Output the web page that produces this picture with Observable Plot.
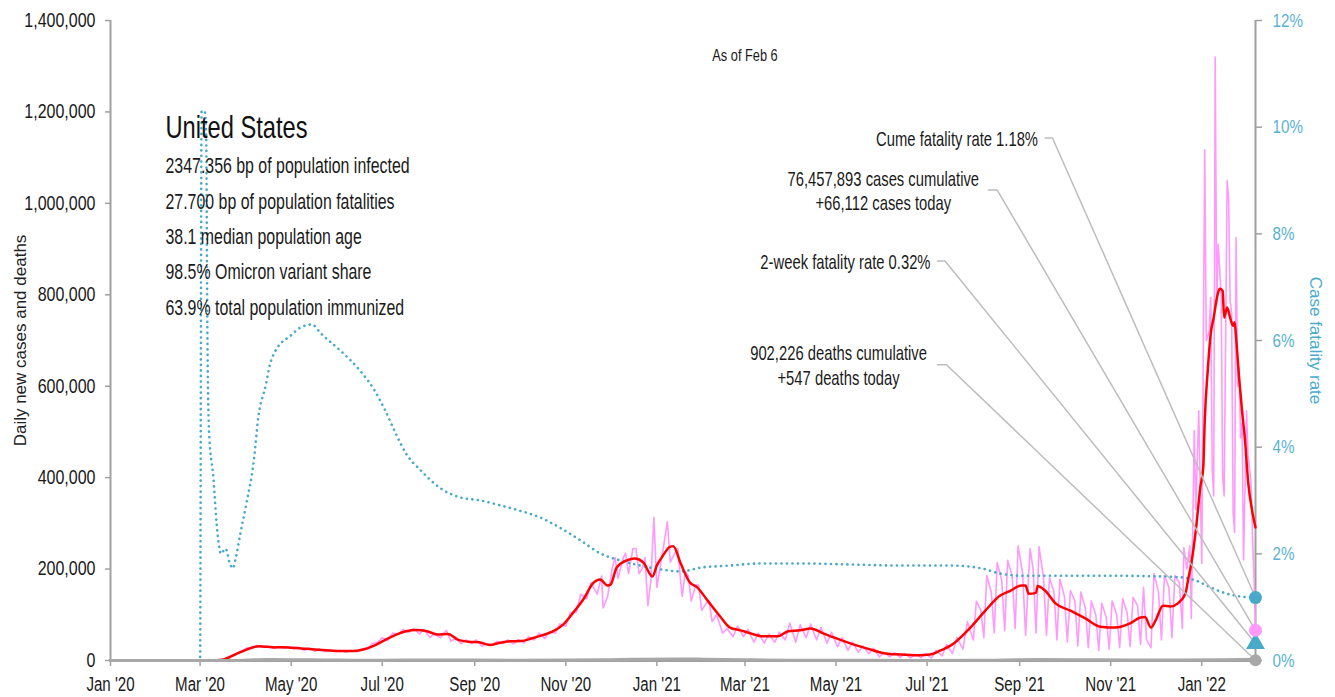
<!DOCTYPE html>
<html><head><meta charset="utf-8">
<script src="https://cdn.jsdelivr.net/npm/d3@7"></script>
<script src="https://cdn.jsdelivr.net/npm/@observablehq/plot@0.6"></script>
<style>
body{margin:0;background:#fff;}
#chart svg{display:block;}
</style></head><body><div id="chart"></div>
<script>
// ---------------- DATA ----------------
// 7-day average of daily new cases (red)
const avgCases = [
["2020-01-01",0],["2020-03-08",0],["2020-03-12",300],["2020-03-16",1500],["2020-03-20",6000],["2020-03-25",14000],["2020-03-31",22000],["2020-04-05",28500],["2020-04-10",31000],["2020-04-15",30000],["2020-04-20",28500],["2020-04-25",29000],["2020-05-01",28000],["2020-05-08",26500],["2020-05-15",24500],["2020-05-22",23000],["2020-05-29",21500],["2020-06-05",21000],["2020-06-12",21000],["2020-06-19",24500],["2020-06-26",33000],["2020-07-03",45000],["2020-07-10",56000],["2020-07-17",64000],["2020-07-24",66500],["2020-07-31",64000],["2020-08-07",57000],["2020-08-14",58000],["2020-08-21",45000],["2020-08-28",41000],["2020-09-04",40000],["2020-09-11",34000],["2020-09-18",39000],["2020-09-25",42000],["2020-10-02",42500],["2020-10-09",48000],["2020-10-16",55000],["2020-10-23",63000],["2020-10-30",78000],["2020-11-06",105000],["2020-11-13",135000],["2020-11-19",168000],["2020-11-24",177000],["2020-11-29",164000],["2020-12-01",166000],["2020-12-05",203000],["2020-12-12",219000],["2020-12-17",223000],["2020-12-23",214000],["2020-12-29",184000],["2021-01-01",208000],["2021-01-05",229000],["2021-01-10",249000],["2021-01-12",250000],["2021-01-17",212000],["2021-01-23",171000],["2021-01-28",160000],["2021-02-04",131000],["2021-02-12",98000],["2021-02-19",72000],["2021-02-26",66000],["2021-03-05",59000],["2021-03-13",53000],["2021-03-23",53000],["2021-03-30",64000],["2021-04-07",66000],["2021-04-14",70000],["2021-04-22",60000],["2021-04-29",51000],["2021-05-11",37000],["2021-05-22",26000],["2021-06-02",16000],["2021-06-13",13000],["2021-06-25",11500],["2021-07-03",13000],["2021-07-10",22000],["2021-07-17",33000],["2021-07-30",72000],["2021-08-09",109000],["2021-08-19",142000],["2021-08-26",153000],["2021-09-02",164000],["2021-09-05",164000],["2021-09-07",146000],["2021-09-12",148000],["2021-09-13",163000],["2021-09-18",153000],["2021-09-25",125000],["2021-10-05",109000],["2021-10-15",92000],["2021-10-25",74000],["2021-11-04",72000],["2021-11-14",81000],["2021-11-21",94000],["2021-11-24",95000],["2021-11-28",72000],["2021-12-01",87000],["2021-12-06",120000],["2021-12-11",118000],["2021-12-16",125000],["2021-12-21",146000],["2021-12-23",179000],["2021-12-25",212000],["2021-12-28",284000],["2021-12-31",378000],["2022-01-02",422000],["2022-01-03",525000],["2022-01-05",634000],["2022-01-07",715000],["2022-01-09",750000],["2022-01-11",791000],["2022-01-13",813000],["2022-01-15",809000],["2022-01-16",750000],["2022-01-18",772000],["2022-01-20",750000],["2022-01-22",732000],["2022-01-23",740000],["2022-01-24",706000],["2022-01-26",619000],["2022-01-28",546000],["2022-01-30",481000],["2022-02-01",393000],["2022-02-04",323000],["2022-02-06",291000]
];
// Daily new cases (pink)
const dailyCases = [
["2020-01-01",0],["2020-03-01",0],["2020-03-08",100],["2020-03-11",400],["2020-03-15",1200],["2020-03-18",5000],["2020-03-22",11000],["2020-03-25",15000],["2020-03-29",21000],["2020-04-01",27000],["2020-04-05",27000],["2020-04-08",33000],["2020-04-12",29000],["2020-04-15",31000],["2020-04-19",27000],["2020-04-22",30000],["2020-04-26",27000],["2020-04-29",30000],["2020-05-03",25000],["2020-05-06",29000],["2020-05-10",22000],["2020-05-13",27000],["2020-05-17",20000],["2020-05-20",25000],["2020-05-24",19000],["2020-05-27",23000],["2020-05-31",19000],["2020-06-03",22000],["2020-06-07",18000],["2020-06-10",22000],["2020-06-14",19000],["2020-06-17",25000],["2020-06-21",25000],["2020-06-24",36000],["2020-06-28",40000],["2020-07-01",50000],["2020-07-05",45000],["2020-07-08",60000],["2020-07-12",58000],["2020-07-15",68000],["2020-07-19",62000],["2020-07-22",70000],["2020-07-26",58000],["2020-07-29",68000],["2020-08-02",50000],["2020-08-05",58000],["2020-08-09",50000],["2020-08-13",66000],["2020-08-16",42000],["2020-08-19",48000],["2020-08-23",37000],["2020-08-26",45000],["2020-08-30",37000],["2020-09-02",45000],["2020-09-06",31000],["2020-09-09",37000],["2020-09-13",34000],["2020-09-16",42000],["2020-09-20",37000],["2020-09-23",45000],["2020-09-27",36000],["2020-09-30",46000],["2020-10-04",38000],["2020-10-07",52000],["2020-10-11",45000],["2020-10-14",60000],["2020-10-18",48000],["2020-10-21",63000],["2020-10-25",60000],["2020-10-28",80000],["2020-11-01",75000],["2020-11-04",105000],["2020-11-08",105000],["2020-11-11",145000],["2020-11-15",135000],["2020-11-18",170000],["2020-11-22",145000],["2020-11-25",185000],["2020-11-26",115000],["2020-11-29",140000],["2020-12-02",200000],["2020-12-04",225000],["2020-12-06",180000],["2020-12-09",220000],["2020-12-11",235000],["2020-12-13",190000],["2020-12-16",245000],["2020-12-18",245000],["2020-12-20",190000],["2020-12-22",200000],["2020-12-24",225000],["2020-12-26",120000],["2020-12-28",175000],["2020-12-30",313000],["2021-01-01",160000],["2021-01-03",200000],["2021-01-06",260000],["2021-01-08",304000],["2021-01-10",215000],["2021-01-13",235000],["2021-01-15",245000],["2021-01-17",170000],["2021-01-18",140000],["2021-01-20",195000],["2021-01-22",185000],["2021-01-24",130000],["2021-01-27",165000],["2021-01-29",165000],["2021-01-31",110000],["2021-02-03",125000],["2021-02-05",130000],["2021-02-07",85000],["2021-02-10",100000],["2021-02-14",60000],["2021-02-17",70000],["2021-02-21",52000],["2021-02-24",75000],["2021-02-28",52000],["2021-03-03",68000],["2021-03-07",40000],["2021-03-10",60000],["2021-03-14",38000],["2021-03-17",58000],["2021-03-21",40000],["2021-03-24",62000],["2021-03-28",45000],["2021-03-31",82000],["2021-04-04",40000],["2021-04-07",78000],["2021-04-11",50000],["2021-04-14",80000],["2021-04-18",45000],["2021-04-21",72000],["2021-04-25",38000],["2021-04-28",62000],["2021-05-02",30000],["2021-05-05",50000],["2021-05-09",22000],["2021-05-12",40000],["2021-05-16",18000],["2021-05-19",32000],["2021-05-23",15000],["2021-05-26",27000],["2021-05-30",8000],["2021-06-02",18000],["2021-06-06",8000],["2021-06-09",17000],["2021-06-13",7000],["2021-06-16",15000],["2021-06-20",6000],["2021-06-23",14000],["2021-06-27",6000],["2021-06-30",15000],["2021-07-04",5000],["2021-07-07",22000],["2021-07-11",10000],["2021-07-14",35000],["2021-07-18",15000],["2021-07-21",50000],["2021-07-25",25000],["2021-07-28",85000],["2021-08-01",45000],["2021-08-03",130000],["2021-08-06",110000],["2021-08-08",50000],["2021-08-10",186000],["2021-08-13",150000],["2021-08-15",60000],["2021-08-17",214000],["2021-08-20",175000],["2021-08-22",65000],["2021-08-24",219000],["2021-08-27",185000],["2021-08-29",70000],["2021-08-31",251000],["2021-09-03",190000],["2021-09-05",55000],["2021-09-08",245000],["2021-09-10",200000],["2021-09-12",60000],["2021-09-14",249000],["2021-09-17",180000],["2021-09-19",55000],["2021-09-21",181000],["2021-09-24",150000],["2021-09-26",45000],["2021-09-28",178000],["2021-10-01",140000],["2021-10-03",40000],["2021-10-05",153000],["2021-10-08",130000],["2021-10-10",32000],["2021-10-12",150000],["2021-10-15",115000],["2021-10-17",28000],["2021-10-19",130000],["2021-10-22",100000],["2021-10-24",22000],["2021-10-26",125000],["2021-10-29",95000],["2021-10-31",25000],["2021-11-02",130000],["2021-11-05",100000],["2021-11-07",28000],["2021-11-09",135000],["2021-11-12",105000],["2021-11-14",30000],["2021-11-16",138000],["2021-11-19",120000],["2021-11-21",35000],["2021-11-23",160000],["2021-11-25",45000],["2021-11-28",28000],["2021-11-30",190000],["2021-12-03",150000],["2021-12-05",45000],["2021-12-07",186000],["2021-12-10",160000],["2021-12-12",50000],["2021-12-14",186000],["2021-12-17",170000],["2021-12-19",70000],["2021-12-20",247000],["2021-12-22",200000],["2021-12-24",251000],["2021-12-25",92000],["2021-12-27",503000],["2021-12-28",330000],["2021-12-30",546000],["2022-01-01",212000],["2022-01-03",1117000],["2022-01-04",700000],["2022-01-06",720000],["2022-01-07",794000],["2022-01-08",420000],["2022-01-09",360000],["2022-01-10",1320000],["2022-01-11",780000],["2022-01-12",911000],["2022-01-13",855000],["2022-01-14",800000],["2022-01-15",402000],["2022-01-16",360000],["2022-01-18",1050000],["2022-01-19",1010000],["2022-01-20",787000],["2022-01-21",760000],["2022-01-22",323000],["2022-01-23",280000],["2022-01-24",925000],["2022-01-25",600000],["2022-01-26",640000],["2022-01-27",487000],["2022-01-28",520000],["2022-01-29",220000],["2022-01-31",546000],["2022-02-01",450000],["2022-02-02",420000],["2022-02-03",390000],["2022-02-04",269000],["2022-02-05",180000],["2022-02-06",66112]
];
// Daily deaths, 7-day average (grey, near the baseline)
const avgDeaths = [
["2020-01-01",0],["2020-03-15",10],["2020-04-01",900],["2020-04-15",2200],["2020-05-01",1900],["2020-05-15",1500],["2020-06-01",1000],["2020-07-01",600],["2020-08-01",1150],["2020-09-01",900],["2020-10-01",750],["2020-11-01",850],["2020-12-01",1900],["2021-01-12",3400],["2021-02-01",2900],["2021-03-01",1700],["2021-04-01",800],["2021-05-01",700],["2021-06-01",450],["2021-07-01",250],["2021-08-01",400],["2021-09-15",2000],["2021-10-15",1600],["2021-11-15",1100],["2021-12-15",1300],["2022-01-15",1900],["2022-02-06",2500]
];
// Case fatality rate, % (blue dotted, right axis)
const caseFatality = [
["2020-01-01",0],["2020-03-01",0],["2020-03-02",10.3],["2020-03-04",10.3],["2020-03-05",10.0],["2020-03-06",5.8],["2020-03-07",4.3],["2020-03-10",3.4],["2020-03-12",2.6],["2020-03-14",2.1],["2020-03-15",2.0],["2020-03-18",2.1],["2020-03-21",1.82],["2020-03-23",1.73],["2020-03-25",1.93],["2020-03-28",2.38],["2020-04-01",2.94],["2020-04-06",3.75],["2020-04-09",4.56],["2020-04-14",5.16],["2020-04-17",5.57],["2020-04-20",5.78],["2020-05-01",6.1],["2020-05-07",6.24],["2020-05-15",6.3],["2020-05-21",6.13],["2020-06-03",5.81],["2020-06-16",5.44],["2020-06-26",5.06],["2020-07-03",4.69],["2020-07-10",4.26],["2020-07-17",3.88],["2020-07-27",3.56],["2020-08-09",3.23],["2020-08-22",3.06],["2020-09-05",3.0],["2020-09-18",2.91],["2020-10-01",2.81],["2020-10-15",2.68],["2020-10-28",2.49],["2020-11-11",2.25],["2020-11-24",2.01],["2020-12-07",1.88],["2020-12-21",1.78],["2021-01-03",1.71],["2021-01-17",1.67],["2021-01-30",1.74],["2021-02-19",1.78],["2021-03-11",1.82],["2021-04-07",1.82],["2021-05-11",1.8],["2021-06-13",1.78],["2021-07-17",1.78],["2021-08-06",1.73],["2021-08-19",1.63],["2021-09-02",1.59],["2021-10-25",1.59],["2021-11-28",1.58],["2021-12-18",1.56],["2021-12-28",1.5],["2022-01-07",1.37],["2022-01-17",1.26],["2022-01-27",1.2],["2022-02-06",1.18]
];
// Latest-day values
const casesToday = 66112;
const deathsToday = 547;
const cumeFatalityRate = 1.18;
const twoWeekFatalityRate = 0.32;
// Tick labels
const leftTicks = [0,200000,400000,600000,800000,1000000,1200000,1400000];
const rightTicks = [0,2,4,6,8,10,12];
const rightTickLabels = ["0%","2%","4%","6%","8%","10%","12%"];
const monthTicks = ["2020-01-01","2020-03-01","2020-05-01","2020-07-01","2020-09-01","2020-11-01","2021-01-01","2021-03-01","2021-05-01","2021-07-01","2021-09-01","2021-11-01","2022-01-01"];
const monthLabels = ["Jan '20","Mar '20","May '20","Jul '20","Sep '20","Nov '20","Jan '21","Mar '21","May '21","Jul '21","Sep '21","Nov '21","Jan '22"];
// Texts
const titleText = "United States";
const infoLines = ["2347.356 bp of population infected","27.700 bp of population fatalities","38.1 median population age","98.5% Omicron variant share","63.9% total population immunized"];
const asOfText = "As of Feb 6";
const labelCume = "Cume fatality rate 1.18%";
const labelCases = "76,457,893 cases cumulative\n+66,112 cases today";
const labelTwoWeek = "2-week fatality rate 0.32%";
const labelDeaths = "902,226 deaths cumulative\n+547 deaths today";

// ---------------- CHART ----------------
const parse = d3.utcParse("%Y-%m-%d");
const startDate = parse("2020-01-01"), endDate = parse("2022-02-06");
const Y_MAX = 1400000, CFR_MAX = 12;
const cfrToY = p => p / CFR_MAX * Y_MAX;   // right axis mapped onto left scale
const toRows = arr => arr.map(([d, v]) => ({date: parse(d), v}));

const red = toRows(avgCases), pink = toRows(dailyCases), grey = toRows(avgDeaths), cfr = toRows(caseFatality);

const FONT = '"Liberation Sans",Arial,sans-serif';
const BLUE = "#48a9c9", PINK = "#ff99fb", AXIS = "#a0a0a0", LEADER = "#bdbdbd";

// annotation layout (leader start in data units, bend date, label offset)
const annos = [
  {text: labelCume, start: "2021-09-18", bend: "2021-09-23", y: 1143000, target: cfrToY(cumeFatalityRate), anchor: "end", dx: -7},
  {text: labelCases, start: "2021-08-11", bend: "2021-08-17", y: 1029000, target: casesToday, anchor: "middle", dx: -105},
  {text: labelTwoWeek, start: "2021-07-08", bend: "2021-07-13", y: 874000, target: cfrToY(twoWeekFatalityRate), anchor: "end", dx: -7},
  {text: labelDeaths, start: "2021-07-08", bend: "2021-07-14", y: 647000, target: deathsToday, anchor: "middle", dx: -99}
];
const leaderRows = annos.flatMap((a, i) => [
  {k: i, date: parse(a.start), v: a.y},
  {k: i, date: parse(a.bend), v: a.y},
  {k: i, date: endDate, v: a.target}
]);

const chart = Plot.plot({
  width: 1335, height: 697,
  marginLeft: 110, marginRight: 80, marginTop: 20, marginBottom: 37,
  style: {fontFamily: FONT, fontSize: "19px", color: "#222", background: "#fff", overflow: "visible"},
  x: {type: "utc", domain: [startDate, endDate]},
  y: {domain: [0, Y_MAX]},
  marks: [
    Plot.axisY(leftTicks, {tickFormat: d3.format(","), tickSize: 5, tickPadding: 10, label: null, stroke: AXIS, fill: "#1a1a1a", fontSize: 20, strokeWidth: 1.5}),
    Plot.axisY(rightTicks.map(cfrToY), {anchor: "right", tickFormat: (d, i) => rightTickLabels[i], tickSize: 6, tickPadding: 11, label: null, stroke: AXIS, fill: "#5ab3d1", fontSize: 19, strokeWidth: 1.5}),
    Plot.axisX(monthTicks.map(parse), {tickFormat: (d, i) => monthLabels[i], tickSize: 6, tickPadding: 10, label: null, stroke: AXIS, fill: "#1a1a1a", fontSize: 21, strokeWidth: 1.5}),
    Plot.ruleX([startDate], {stroke: AXIS, strokeWidth: 2}),
    Plot.ruleX([endDate], {stroke: AXIS, strokeWidth: 2}),
    // series
    Plot.line(pink, {x: "date", y: "v", stroke: PINK, strokeWidth: 1.6}),
    Plot.line(cfr, {x: "date", y: d => cfrToY(d.v), stroke: BLUE, strokeWidth: 2.6, strokeDasharray: "0.1 5.4", strokeLinecap: "round", curve: "monotone-x"}),
    Plot.line(red, {x: "date", y: "v", stroke: "#ff0000", strokeWidth: 2.5, curve: "monotone-x"}),
    Plot.ruleY([0], {stroke: AXIS, strokeWidth: 3}),
    Plot.line(grey, {x: "date", y: "v", stroke: "#a8a8a8", strokeWidth: 3, curve: "monotone-x"}),
    // leaders
    Plot.line(leaderRows, {x: "date", y: "v", z: "k", stroke: LEADER, strokeWidth: 1.5}),
    // end markers
    Plot.dot([{date: endDate, v: deathsToday}], {x: "date", y: "v", r: 6, fill: "#a8a8a8", stroke: "none"}),
    Plot.dot([{date: endDate, v: cfrToY(twoWeekFatalityRate)}], {x: "date", y: "v", r: 7, symbol: "triangle", fill: BLUE, stroke: "none"}),
    Plot.dot([{date: endDate, v: casesToday}], {x: "date", y: "v", r: 6.5, fill: PINK, stroke: "none"}),
    Plot.dot([{date: endDate, v: cfrToY(cumeFatalityRate)}], {x: "date", y: "v", r: 6.5, fill: BLUE, stroke: "none"}),
    // annotation labels
    ...annos.map(a => Plot.text([a], {x: d => parse(d.start), y: "y", text: "text", textAnchor: a.anchor, dx: a.dx, fill: "#1a1a1a", fontSize: 20, lineHeight: 1.22, className: "c74"})),
    // axis titles (not condensed)
    Plot.text(["Daily new cases and deaths"], {frameAnchor: "left", text: d => d, rotate: -90, textAnchor: "middle", dx: -90, fill: "#222", fontSize: 17, className: "wide"}),
    Plot.text(["Case fatality rate"], {frameAnchor: "right", text: d => d, rotate: 90, textAnchor: "middle", dx: 60, fill: "#4aaccc", fontSize: 17, className: "wide"}),
    // title block
    Plot.text([titleText], {frameAnchor: "top-left", text: d => d, dx: 55, dy: 117, lineAnchor: "bottom", fontSize: 32, fill: "#111", textAnchor: "start", className: "c74"}),
    Plot.text([infoLines.join("\n")], {frameAnchor: "top-left", text: d => d, dx: 55, dy: 294, lineAnchor: "bottom", lineHeight: 1.64, fontSize: 21.5, fill: "#1a1a1a", textAnchor: "start", className: "c74"}),
    Plot.text([asOfText], {frameAnchor: "top", text: d => d, dx: 62, dy: 40, lineAnchor: "bottom", fontSize: 16, fill: "#1a1a1a"})
  ]
});
document.getElementById("chart").appendChild(chart);

// condense text horizontally (reference uses a condensed typeface)
chart.querySelectorAll("text").forEach(t => {
  if (t.closest(".wide")) return;
  let s = 0.8;
  if (t.closest(".c74")) s = 0.74;
  else if (monthLabels.includes(t.textContent)) s = 0.72;
  const tr = t.getAttribute("transform");
  if (tr) t.setAttribute("transform", tr + ` scale(${s},1)`);
  else {
    const x = +(t.getAttribute("x") || 0), y = +(t.getAttribute("y") || 0);
    t.removeAttribute("x"); t.removeAttribute("y");
    t.setAttribute("transform", `translate(${x},${y}) scale(${s},1)`);
  }
});
</script>
</body></html>
